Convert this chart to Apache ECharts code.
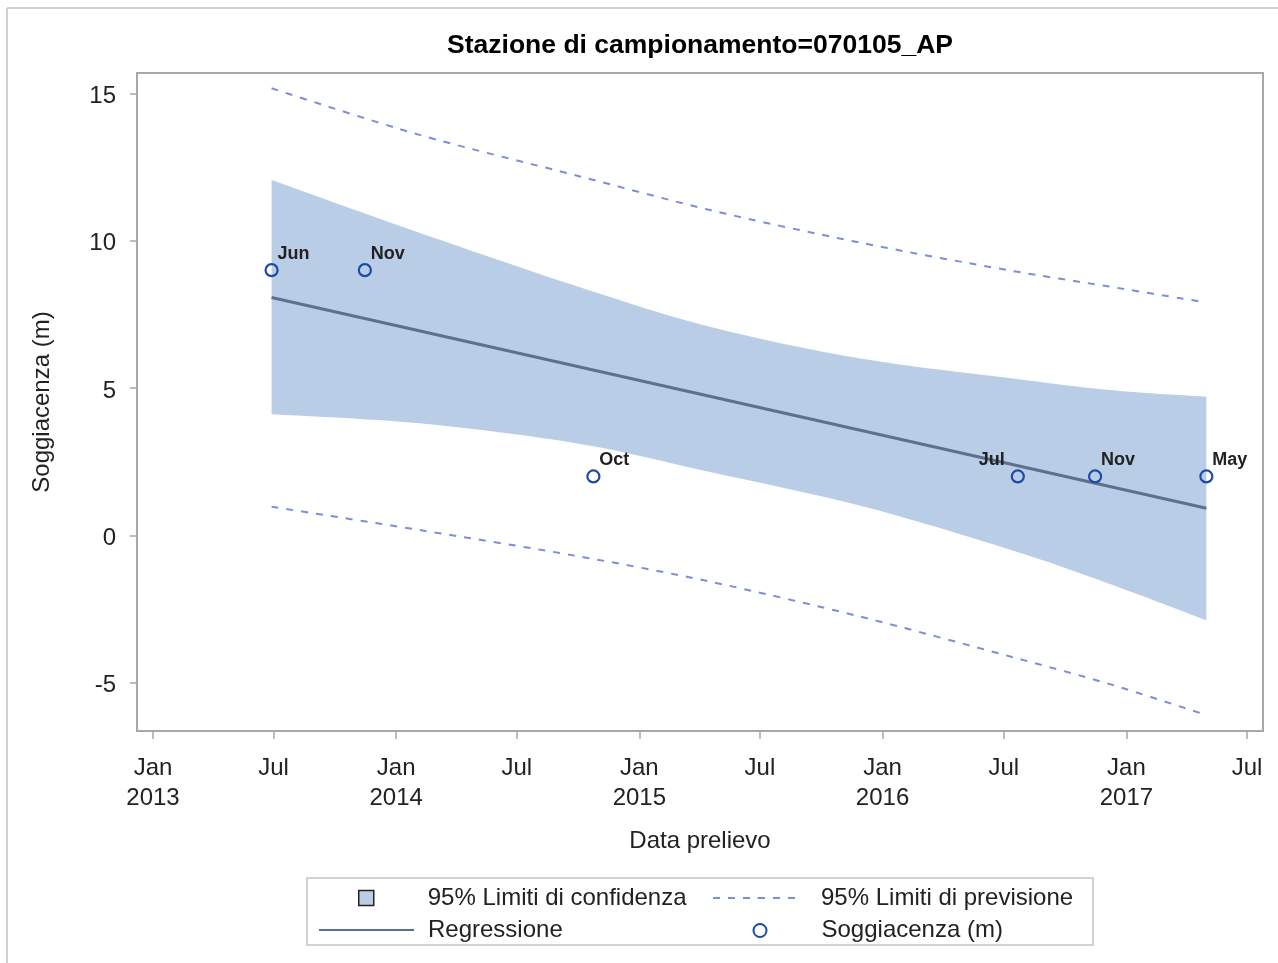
<!DOCTYPE html>
<html><head><meta charset="utf-8">
<script src="https://cdn.jsdelivr.net/npm/echarts@6/dist/echarts.min.js"></script>
<style>html,body{margin:0;padding:0;background:#fff}#c{width:1278px;height:963px}</style>
</head><body><div id="c"></div>
<script>
// ---- data ----
const obsDates = ['2013-06-28','2013-11-15','2014-10-24','2016-07-22','2016-11-15','2017-05-01'];
const obsValues = [9, 9, 2, 2, 2, 2];
const obsLabels = ['Jun','Nov','Oct','Jul','Nov','May'];

const bandDates = ['2013-06-28','2014-02-05','2014-10-04','2015-04-17','2015-11-29','2016-07-12','2016-12-07','2017-05-01'];
const confUpper = [12.06, 10.27, 8.42, 7.08, 6.00, 5.33, 4.93, 4.70];
const confLower = [4.11, 3.80, 3.10, 2.15, 1.00, -0.50, -1.65, -2.88];
const predUpper = [15.17, 13.59, 12.18, 11.04, 9.93, 8.98, 8.44, 7.90];
const predLower = [0.97, 0.18, -0.72, -1.57, -2.76, -4.12, -5.05, -6.10];

const regDates = ['2013-06-28','2017-05-01'];
const regValues = [8.07, 0.92];

const yTicks = [-5, 0, 5, 10, 15];
const xTickDates = ['2013-01-01','2013-07-01','2014-01-01','2014-07-01','2015-01-01','2015-07-01','2016-01-01','2016-07-01','2017-01-01','2017-07-01'];
const monthNames = ['Jan','Feb','Mar','Apr','May','Jun','Jul','Aug','Sep','Oct','Nov','Dec'];

const titleText = 'Stazione di campionamento=070105_AP';
const xName = 'Data prelievo';
const yName = 'Soggiacenza (m)';
const nConf = '95% Limiti di confidenza';
const nPred = '95% Limiti di previsione';
const nReg = 'Regressione';
const nObs = 'Soggiacenza (m)';

// ---- helpers ----
function toTime(s){ const p = s.split('-').map(Number); return Date.UTC(p[0], p[1]-1, p[2]); }

const FONT = '"Liberation Sans", Arial, sans-serif';
const AXIS_COLOR = '#A8A8A8';
const BAND_COLOR = '#B9CEE6';
const PRED_COLOR = '#7D8ED6';
const REG_COLOR = '#5E6F8F';
const OBS_COLOR = '#1D49A8';

const xTicks = xTickDates.map(toTime);
const bandT = bandDates.map(toTime);

// smooth path (Catmull-Rom as cubic Bezier) through pixel points; begins with M or L
function smoothPath(pts, first){
  let d = (first ? 'M' : 'L') + pts[0][0] + ',' + pts[0][1];
  for (let i = 0; i < pts.length - 1; i++){
    const p0 = pts[Math.max(i - 1, 0)], p1 = pts[i], p2 = pts[i + 1], p3 = pts[Math.min(i + 2, pts.length - 1)];
    const k = 1 / 6;
    const c1 = [p1[0] + (p2[0] - p0[0]) * k, p1[1] + (p2[1] - p0[1]) * k];
    const c2 = [p2[0] - (p3[0] - p1[0]) * k, p2[1] - (p3[1] - p1[1]) * k];
    d += 'C' + c1[0] + ',' + c1[1] + ' ' + c2[0] + ',' + c2[1] + ' ' + p2[0] + ',' + p2[1];
  }
  return d;
}

const chart = echarts.init(document.getElementById('c'), null, {renderer: 'canvas'});

const legendText = {fontFamily: FONT, fontSize: 24, color: '#222'};
function mkLegend(extra, pad){
  return Object.assign({orient: 'horizontal', padding: 0, itemGap: 0, selectedMode: false,
    textStyle: Object.assign({}, legendText, {padding: [0, 0, 0, pad]})}, extra);
}

const option = {
  backgroundColor: '#fff',
  animation: false,
  title: {
    text: titleText, left: 695, top: 27, textAlign: 'center',
    textStyle: {fontFamily: FONT, fontSize: 26.5, fontWeight: 'bold', color: '#000'}
  },
  grid: {left: 137, top: 73, right: 15, bottom: 232, show: true, borderColor: AXIS_COLOR, borderWidth: 2, containLabel: false},
  xAxis: {
    type: 'value',
    min: toTime('2012-12-08'), max: toTime('2017-07-25'),
    name: xName, nameLocation: 'middle', nameGap: 98,
    nameTextStyle: {fontFamily: FONT, fontSize: 24, color: '#222'},
    axisLine: {show: true, onZero: false, lineStyle: {color: AXIS_COLOR, width: 2}},
    axisTick: {show: true, length: 8, lineStyle: {color: AXIS_COLOR, width: 1.5}, customValues: xTicks},
    axisLabel: {
      customValues: xTicks, margin: 22, fontFamily: FONT, fontSize: 24, color: '#222', lineHeight: 30,
      formatter: function(v){ const d = new Date(v); const m = monthNames[d.getUTCMonth()]; return d.getUTCMonth() === 0 ? m + '\n' + d.getUTCFullYear() : m; }
    },
    splitLine: {show: false}
  },
  yAxis: {
    type: 'value', min: -6.64, max: 15.69,
    name: yName, nameLocation: 'middle', nameGap: 83,
    nameTextStyle: {fontFamily: FONT, fontSize: 24, color: '#222'},
    axisLine: {show: true, onZero: false, lineStyle: {color: AXIS_COLOR, width: 2}},
    axisTick: {show: true, length: 7, lineStyle: {color: AXIS_COLOR, width: 1.5}, customValues: yTicks},
    axisLabel: {
      customValues: yTicks, margin: 21,
      formatter: function(v){ return '{a|' + v + '}'; },
      rich: {a: {fontFamily: FONT, fontSize: 24, color: '#222', padding: [6, 0, 0, 0]}}
    },
    splitLine: {show: false}
  },
  legend: [
    mkLegend({left: 358, top: 886, itemWidth: 15, itemHeight: 15,
      data: [{name: nConf, icon: 'rect', itemStyle: {color: BAND_COLOR, borderColor: '#222', borderWidth: 1.5, opacity: 1}}]}, 49),
    mkLegend({left: 318, top: 918, itemWidth: 95, itemHeight: 2,
      data: [{name: nReg}]}, 9),
    mkLegend({left: 712, top: 886, itemWidth: 90, itemHeight: 2,
      data: [{name: nPred}]}, 13),
    mkLegend({left: 752.5, top: 918.5, itemWidth: 13, itemHeight: 13,
      data: [{name: nObs, icon: 'circle', itemStyle: {color: '#fff', borderColor: OBS_COLOR, borderWidth: 2, opacity: 1}}]}, 50)
  ],
  graphic: [
    {type: 'rect', shape: {x: 307, y: 878, width: 786, height: 67}, style: {fill: 'none', stroke: '#C4C4C4', lineWidth: 1.5}, silent: true, z: -1},
    {type: 'line', shape: {x1: 7, y1: 8, x2: 7, y2: 963}, style: {stroke: '#D0D0D0', lineWidth: 2}, silent: true},
    {type: 'line', shape: {x1: 7, y1: 8, x2: 1278, y2: 8}, style: {stroke: '#D0D0D0', lineWidth: 2}, silent: true}
  ],
  series: [
    {
      name: nConf, type: 'custom', z: 1, silent: true,
      data: [[bandT[0], confUpper[0]]],
      renderItem: function(params, api){
        const up = bandT.map((t, i) => api.coord([t, confUpper[i]]));
        const lo = bandT.map((t, i) => api.coord([t, confLower[i]])).reverse();
        const d = smoothPath(up, true) + smoothPath(lo, false) + 'Z';
        return {type: 'path', shape: {pathData: d}, style: {fill: BAND_COLOR}};
      },
      itemStyle: {color: BAND_COLOR}
    },
    {
      name: nPred, type: 'line', z: 2, symbol: 'none', smooth: 0.3,
      data: bandT.map((t, i) => [t, predUpper[i]]),
      lineStyle: {color: PRED_COLOR, width: 2, type: [7, 8]},
      itemStyle: {color: PRED_COLOR}
    },
    {
      name: nPred, type: 'line', z: 2, symbol: 'none', smooth: 0.3,
      data: bandT.map((t, i) => [t, predLower[i]]),
      lineStyle: {color: PRED_COLOR, width: 2, type: [7, 8]},
      itemStyle: {color: PRED_COLOR}
    },
    {
      name: nReg, type: 'line', z: 3, symbol: 'none',
      data: regDates.map((d, i) => [toTime(d), regValues[i]]),
      lineStyle: {color: REG_COLOR, width: 3},
      itemStyle: {color: REG_COLOR}
    },
    {
      name: nObs, type: 'scatter', z: 4, symbol: 'circle', symbolSize: 12,
      itemStyle: {color: 'rgba(255,255,255,0)', borderColor: OBS_COLOR, borderWidth: 2.2, opacity: 1},
      data: obsDates.map((d, i) => ({
        value: [toTime(d), obsValues[i]],
        label: {
          show: true, formatter: obsLabels[i],
          position: i === 3 ? [-6, -9] : [13, -9],
          align: i === 3 ? 'right' : 'left', verticalAlign: 'middle',
          fontFamily: FONT, fontSize: 18, fontWeight: 'bold', color: '#222'
        }
      }))
    }
  ]
};
chart.setOption(option);
</script>
</body></html>
